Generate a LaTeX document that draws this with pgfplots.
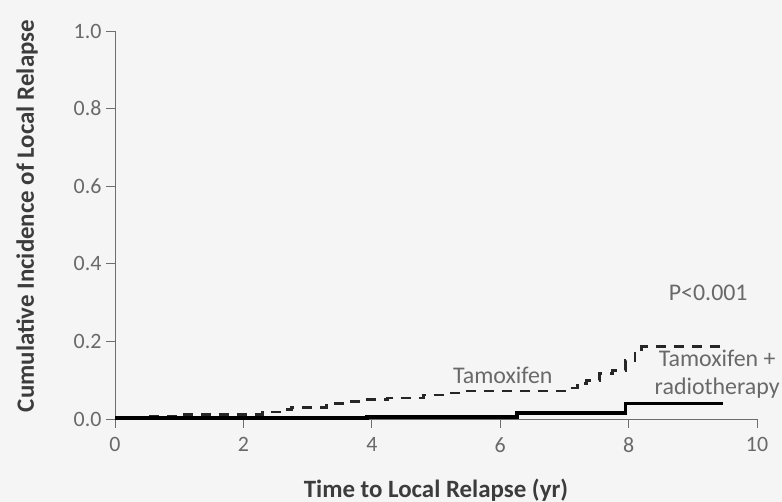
\documentclass[border=0pt]{standalone}
\usepackage{fontspec}
\setmainfont{Carlito}
\usepackage{pgfplots}
\pgfplotsset{compat=1.18}
\definecolor{bg}{RGB}{245,245,245}
\definecolor{axgray}{RGB}{110,110,110}
\definecolor{txtgray}{RGB}{105,105,105}
\definecolor{lblgray}{RGB}{60,60,60}

\begin{document}
\begin{tikzpicture}[x=1bp,y=1bp]
\fill[bg] (0,0) rectangle (782,502);
\useasboundingbox (0,0) rectangle (782,502);
\begin{axis}[
  at={(115bp,83bp)}, anchor=origin,
  scale only axis, width=642bp, height=388bp,
  xmin=0, xmax=10, ymin=0, ymax=1,
  axis lines=left, axis line style={-, draw=axgray, line width=0.9pt},
  clip=false,
  tick align=outside, major tick length=9bp,
  tick style={draw=axgray, line width=0.9pt},
  xtick={0,2,...,10}, ytick={0,0.2,...,1.0},
  yticklabel style={/pgf/number format/fixed, /pgf/number format/fixed zerofill,
                    /pgf/number format/precision=1},
  /pgf/number format/assume math mode=true,
  tick label style={font=\fontsize{22}{24}\selectfont, text=txtgray},
  xticklabel style={yshift=-6bp},
  yticklabel style={xshift=-1bp},
  xlabel={Time to Local Relapse (yr)},
  ylabel={Cumulative Incidence of Local Relapse},
  label style={font=\fontsize{25}{28}\selectfont\bfseries, text=lblgray},
  xlabel style={at={(axis description cs:0.5,-0.183)}, anchor=center},
  ylabel style={at={(axis description cs:-0.137,0.523)}, anchor=center},
]
% Tamoxifen
\addplot[const plot, black!85, line width=2.8pt, dash pattern=on 10bp off 8bp] coordinates {
  (0,0.002) (0.45,0.006) (1.0,0.012) (2.3,0.018) (2.6,0.024) (2.75,0.03)
  (3.3,0.04) (3.55,0.045) (3.85,0.05) (4.25,0.054) (4.8,0.062) (5.2,0.067)
  (5.45,0.072) (7.05,0.08) (7.2,0.092) (7.35,0.1) (7.55,0.118) (7.75,0.126)
  (7.95,0.15) (8.1,0.175) (8.2,0.186) (9.47,0.186)
};
% Tamoxifen + radiotherapy
\addplot[const plot, black, line width=3.8pt] coordinates {
  (0,0.002) (3.93,0.006) (6.26,0.016) (7.95,0.04) (9.47,0.04)
};
\node[text=txtgray, font=\fontsize{24}{26}\selectfont] at (axis cs:6.04,0.113) {Tamoxifen};
\node[text=txtgray, font=\fontsize{24}{26}\selectfont] at (axis cs:9.24,0.325) {P<0.001};
\node[text=txtgray, font=\fontsize{24}{26}\selectfont] at (axis cs:9.38,0.157) {Tamoxifen +};
\node[text=txtgray, font=\fontsize{24}{26}\selectfont] at (axis cs:9.38,0.080) {radiotherapy};
\end{axis}
\end{tikzpicture}
\end{document}
